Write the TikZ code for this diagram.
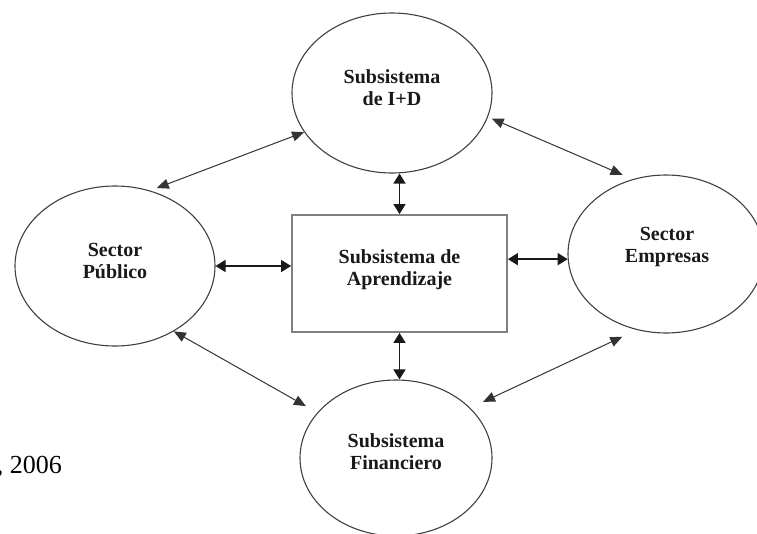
\documentclass[tikz,border=0pt]{standalone}
\usepackage{fontspec}
\setmainfont{Liberation Serif}
\usetikzlibrary{shapes.geometric,arrows.meta}
\begin{document}
\begin{tikzpicture}[x=1pt,y=-1pt,
  elli/.style={draw=black!75,line width=1.1pt,ellipse,inner sep=0pt},
  lbl/.style={font=\fontsize{20}{22}\selectfont\bfseries,align=center,text=black!90,inner sep=0pt},
  boxst/.style={draw=black!50,line width=1.8pt,rectangle,inner sep=0pt,minimum width=215pt,minimum height=117pt},
  ax/.style={{Triangle[length=10pt,width=12pt]}-{Triangle[length=10pt,width=12pt]},line width=1.6pt,draw=black!90},
  diag/.style={{Triangle[length=12pt,width=10pt]}-{Triangle[length=12pt,width=10pt]},line width=1pt,draw=black!80}
]
\useasboundingbox (0,0) rectangle (757,533);
\node[elli,minimum width=200pt,minimum height=160pt] (T) at (392,93) {};
\node[elli,minimum width=200pt,minimum height=160pt] (L) at (115,266) {};
\node[elli,minimum width=196pt,minimum height=158pt] (R) at (666,254) {};
\node[elli,minimum width=192pt,minimum height=156pt] (B) at (396,458) {};
\node[boxst] (box) at (399.5,273.5) {};

\node[lbl] (tT) at ([yshift=5pt]T.center) {Subsistema\\de I+D};
\node[lbl] (tL) at ([yshift=5pt]L.center) {Sector\\Público};
\node[lbl] (tR) at ([yshift=7pt,xshift=1pt]R.center) {Sector\\Empresas};
\node[lbl] (tB) at ([yshift=6pt]B.center) {Subsistema\\Financiero};
\node[lbl] (tbox) at ([yshift=4pt]box.center) {Subsistema de\\Aprendizaje};

\node[font=\fontsize{26}{30}\selectfont,anchor=base east,inner sep=0pt] (yr) at (62,473) {, 2006};

\draw[ax] (box.north) -- (box.north |- T.south);
\draw[ax] (box.south) -- (box.south |- B.north);
\draw[ax] (L.east) -- (L.east -| box.west);
\draw[ax] (R.183.5 -| box.east) -- (R.183.5);
\draw[diag,shorten <=7pt] (L.65) -- (T.204);
\draw[diag,shorten <=4pt,shorten >=11pt] (T.346) -- (R.114);
\draw[diag,shorten >=13pt] (L.312) -- (B.150);
\draw[diag,shorten <=16pt,shorten >=14pt] (R.249) -- (B.34);
\end{tikzpicture}
\end{document}
